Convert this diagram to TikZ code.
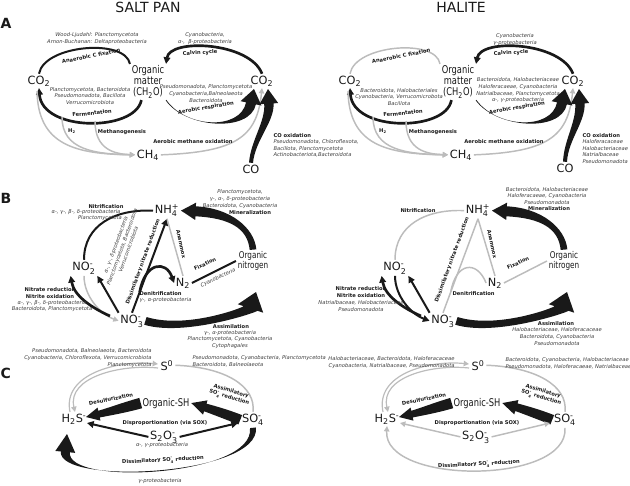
\documentclass[tikz,border=0pt]{standalone}
\usepackage{fontspec}
\usepackage{amsmath}
\setmainfont{DejaVu Sans}
\newfontfamily\narrowfont[FakeStretch=0.78]{DejaVu Sans}
\usetikzlibrary{arrows.meta,calc}

\definecolor{ink}{RGB}{25,25,25}
\definecolor{lgray}{RGB}{188,188,188}
\definecolor{taxtext}{RGB}{60,60,60}

\newcommand{\chsub}[1]{\ensuremath{{}_{\text{#1}}}}
\newcommand{\chsup}[1]{\ensuremath{{}^{\text{#1}}}}
\newcommand{\chsubsup}[2]{\ensuremath{{}_{\text{#1}}^{\text{#2}}}}

% tapered arrow: start, control 1, control 2, tip, start half width, end half width, head half width, head length, colour
\newcommand{\tapflow}[9]{%
  \path ($#4!#8!#3$) coordinate (tb);
  \path ($(tb)!#6!90:#3$) coordinate (bo) ($(tb)!#6!-90:#3$) coordinate (bi)
        ($(tb)!#7!90:#3$) coordinate (ho) ($(tb)!#7!-90:#3$) coordinate (hi)
        ($#1!#5!-90:#2$) coordinate (so) ($#1!#5!90:#2$) coordinate (si);
  \fill[#9] (so) .. controls ($#2+(so)-#1$) and ($#3+(bo)-(tb)$) .. (bo)
     -- (ho) -- #4 -- (hi) -- (bi)
     .. controls ($#3+(bi)-(tb)$) and ($#2+(si)-#1$) .. (si) -- cycle;}

\tikzset{every picture/.style={line width=0.75pt},
  chem/.style={font=\fontsize{8.5}{9}\selectfont, inner sep=1pt, anchor=base, text=ink},
  orgn/.style={font=\narrowfont\fontsize{8}{8.3}\selectfont, align=center, inner sep=1pt, text=ink},
  orgs/.style={font=\narrowfont\fontsize{7}{7.5}\selectfont, align=center, inner sep=1pt, text=ink},
  lbl/.style={font=\bfseries\fontsize{3.9}{4.8}\selectfont, inner sep=0pt, align=center, text=ink},
  tax/.style={font=\itshape\fontsize{3.9}{5}\selectfont, inner sep=0pt, align=center, text=taxtext},
  ttl/.style={font=\fontsize{10.5}{12}\selectfont, text=ink},
  panel/.style={font=\bfseries\fontsize{10.5}{12}\selectfont, anchor=west, inner sep=0pt, text=ink},
  flow/.style={draw=ink, line width=1.5pt},
  flowb/.style={draw=ink, line width=2pt},
  gline/.style={draw=lgray, line width=1.1pt},
  arr/.style={-{Triangle[length=5pt,width=5pt]}},
  garr/.style={-{Triangle[length=4pt,width=4pt]}}}

\begin{document}
\begin{tikzpicture}[x=0.75pt,y=0.75pt,yscale=-1,xscale=1]
\useasboundingbox (0,0) rectangle (630,485);

% Text Node
\node[ttl] (tsalt) at (148,7) {SALT PAN};
\node[ttl] (thal) at (461,7) {HALITE};
\node[panel] (pA) at (0,23) {A};
\node[panel] (pB) at (0,198) {B};
\node[panel] (pC) at (0,373) {C};

%%%%%%%%%% A, salt pan
\node[chem] (co2L) at (39,84) {CO\chsub{2}};
\node[orgn] (omL) at (148,82) {Organic\\matter\\(CH\chsub{2}O)};
\node[chem] (co2rL) at (262,84) {CO\chsub{2}};
\node[chem] (ch4L) at (148,158) {CH\chsub{4}};
\node[chem] (coL) at (251,173) {CO};
\coordinate (arL) at (254,89);
\coordinate (oxL) at (268,89);
\coordinate (cgL) at (37,91);
\coordinate (h2L) at (62,117);
\coordinate (mgL) at (95,121);

% Curve Lines
\draw[flow] (co2L.north) .. controls (44,45) and (125,38) .. (omL.north west);
\draw[flowb, arr] (co2rL.north) .. controls (250,42) and (170,38) .. (omL.north east);
\draw[flowb, arr] (omL.250) .. controls (135,132) and (42,132) .. (co2L.south);
\draw[gline, garr] (cgL) .. controls (38,145) and (75,154) .. (ch4L.west);
\draw[gline, garr] (h2L) .. controls (62,150) and (95,154) .. (ch4L.west);
\draw[gline, garr] (mgL) .. controls (95,150) and (115,154) .. (ch4L.west);
\draw[gline, garr] (ch4L.east) .. controls (235,152) and (257,138) .. (co2rL.south);
\tapflow{(omL.south east)}{(185,128)}{(245,132)}{(arL)}{0.3pt}{3.75pt}{8pt}{11pt}{ink}
\tapflow{(coL.north)}{(253,140)}{(270,122)}{(oxL)}{1.5pt}{3.5pt}{7pt}{11pt}{ink}

% Text Node
\node[tax] (tanL) at (97,38.5) {Wood-Ljudahl: Planctomycetota\\Arnon-Buchanan: Deltaproteobacteria};
\node[lbl, rotate=11] (lanL) at (91,56) {Anaerobic C fixation};
\node[tax] (tcvL) at (205,38.5) {Cyanobacteria,\\α-,\ \ β-proteobacteria};
\node[lbl, rotate=3] (lcvL) at (200,53) {Calvin cycle};
\node[tax] (tfeL) at (90,96) {Planctomycetota, Bacteroidota\\Pseudomonadota, Bacillota\\Verrucomicrobiota};
\node[lbl, rotate=6] (lfeL) at (92,113) {Fermentation};
\node[tax] (tarL) at (206,93.5) {Pseudomonadota, Planctomycetota\\Cyanobacteria,Balneolaeota\\Bacteroidota};
\node[lbl, rotate=10] (larL) at (206,108) {Aerobic respiration};
\node[lbl] (lh2L) at (72,131) {H\chsub{2}};
\node[lbl] (lmgL) at (122,132) {Methanogenesis};
\node[lbl] (lmoL) at (193,142) {Aerobic methane oxidation};
\node[lbl, anchor=west] (lcoL) at (273,136) {CO oxidation};
\node[tax, anchor=north west, align=left] (tcoL) at (273,139) {Pseudomonadota, Chloroflexota,\\Bacillota, Planctomycetota\\Actinobacteriota,Bacteroidota};

%%%%%%%%%% A, halite
\begin{scope}[shift={(311,0)}]
\node[chem] (co2R) at (39,84) {CO\chsub{2}};
\node[orgn] (omR) at (147,82) {Organic\\matter\\(CH\chsub{2}O)};
\node[chem] (co2rR) at (262,84) {CO\chsub{2}};
\node[chem] (ch4R) at (150,158) {CH\chsub{4}};
\node[chem] (coR) at (254,172) {CO};
\coordinate (arR) at (254,89);
\coordinate (oxR) at (268,89);
\coordinate (cgR) at (37,91);
\coordinate (h2R) at (62,117);
\coordinate (mgR) at (95,121);

% Curve Lines
\draw[gline] (co2R.north) .. controls (44,45) and (125,38) .. (omR.north west);
\draw[flowb, arr] (co2rR.north) .. controls (250,42) and (170,38) .. (omR.north east);
\draw[flowb, arr] (omR.250) .. controls (135,132) and (42,132) .. (co2R.south);
\draw[gline, garr] (cgR) .. controls (38,145) and (75,154) .. (ch4R.west);
\draw[gline, garr] (h2R) .. controls (62,150) and (95,154) .. (ch4R.west);
\draw[gline, garr] (mgR) .. controls (95,150) and (115,154) .. (ch4R.west);
\draw[gline, garr] (ch4R.east) .. controls (235,152) and (257,138) .. (co2rR.south);
\tapflow{(omR.south east)}{(185,128)}{(245,132)}{(arR)}{0.3pt}{3.75pt}{8pt}{11pt}{ink}
\tapflow{(coR.north)}{(255,140)}{(270,122)}{(oxR)}{1.5pt}{3.5pt}{7pt}{11pt}{ink}

% Text Node
\node[lbl, rotate=11] (lanR) at (90,56) {Anaerobic C fixation};
\node[tax] (tcvR) at (204,39.5) {Cyanobacteria\\γ-proteobacteria};
\node[lbl, rotate=3] (lcvR) at (200,53) {Calvin cycle};
\node[tax] (tfeR) at (88,97) {Bacteroidota, Halobacteriales\\Cyanobacteria, Verrucomicrobota\\Bacillota};
\node[lbl, rotate=6] (lfeR) at (92,113) {Fermentation};
\node[tax] (tarR) at (207,90.5) {Bacteroidota, Halobacteriaceae\\Haloferacaeae, Cyanobacteria\\Natrialbaceae, Planctomycetota\\α-, γ-proteobacteria};
\node[lbl, rotate=10] (larR) at (206,108) {Aerobic respiration};
\node[lbl] (lh2R) at (72,131) {H\chsub{2}};
\node[lbl] (lmgR) at (122,132) {Methanogenesis};
\node[lbl] (lmoR) at (193,142) {Aerobic methane oxidation};
\node[lbl, anchor=west] (lcoR) at (271,136) {CO oxidation};
\node[tax, anchor=north west, align=left] (tcoR) at (271,139) {Haloferacaceae\\Halobacteriaceae\\Natrialbaceae\\Pseudomonadota};
\end{scope}

%%%%%%%%%% B, salt pan
\node[chem] (nh4L) at (167,213) {NH\chsubsup{4}{+}};
\node[chem] (no2L) at (84,270) {NO\chsubsup{2}{-}};
\node[chem] (no3L) at (132,323) {NO\chsubsup{3}{-}};
\node[chem] (n2L) at (183,286) {N\chsub{2}};
\node[orgs] (orgnL) at (253,261) {Organic\\nitrogen};
\coordinate (nrL) at (110,316);
\coordinate (dnL) at ($(no3L.north)!0.22!(nh4L.south)$);
\coordinate (asL) at (256,292);

% Curve Lines
\draw[flow] (no2L.north) .. controls (84,225) and (115,209) .. (nh4L.west);
\tapflow{(orgnL.north)}{(251,228)}{(230,213)}{(nh4L.east)}{2.5pt}{3.75pt}{6.5pt}{11pt}{ink}
\draw[gline, garr] (no2L.south) .. controls (84,296) and (100,314) .. (no3L.west);
\draw[flowb, arr] (nrL) .. controls (92,308) and (74,296) .. (no2L.south west);
\draw[flow, arr] (no3L.north west) -- (no2L.south east);
\draw[flow, arr] (no3L.north) -- (nh4L.south);
\draw[gline] (nh4L.south) -- (n2L.north);
\draw[flowb, arr] (dnL) .. controls (145,262) and (166,260) .. (n2L.west);
\draw[flow] (n2L.east) -- (orgnL.west);
\tapflow{(no3L.east)}{(185,333)}{(250,310)}{(asL)}{3pt}{5.5pt}{10pt}{13pt}{ink}

% Text Node
\node[lbl] (lniL) at (106,207) {Nitrification};
\node[tax] (tniL) at (86,212) {α-, γ-, β-, δ-proteobacteria};
\node[tax] (tni2L) at (100,218) {Planctomycetota};
\node[tax] (tmiL) at (240,199) {Planctomycetota,\\γ-, α-, δ-proteobacteria\\Bacteroidota, Cyanobacteria};
\node[lbl] (lmiL) at (250,213) {Mineralization};
\node[lbl, rotate=70] (ldnraL) at (143,262) {Dissimilatory nitrate reduction};
\node[tax, rotate=70] (tdnraL) at (122,247) {α-, γ-, δ-proteobacteria\\Planctomycetota, Bacteroidota\\Verrucomicrobiota};
\node[lbl, rotate=-78] (lamL) at (181,244) {Anammox};
\node[lbl, anchor=west] (ldeL) at (139,294) {Denitrification};
\node[tax, anchor=west] (tdeL) at (139,300) {γ-, α-proteobacteria};
\node[lbl, rotate=25] (lfiL) at (205,264) {Fixation};
\node[tax, rotate=25] (tfiL) at (218,278) {Cyanobacteria};
\node[lbl] (lnrL) at (50,293) {Nitrate reduction\\Nitrite oxidation};
\node[tax] (tnrL) at (52,306) {α-, γ-, β-, δ-proteobacteria\\Bacteroidota, Planctomycetota};
\node[lbl] (lasL) at (231,327) {Assimilation};
\node[tax] (tasL) at (230,339.5) {γ-, α-proteobacteria\\Planctomycetota, Cyanobacteria\\Cytophagales};

%%%%%%%%%% B, halite
\begin{scope}[shift={(311,0)}]
\node[chem] (nh4R) at (167,213) {NH\chsubsup{4}{+}};
\node[chem] (no2R) at (84,270) {NO\chsubsup{2}{-}};
\node[chem] (no3R) at (132,323) {NO\chsubsup{3}{-}};
\node[chem] (n2R) at (184,286) {N\chsub{2}};
\node[orgs] (orgnR) at (253,261) {Organic\\nitrogen};
\coordinate (nrR) at (110,316);
\coordinate (dnR) at ($(no3R.north)!0.22!(nh4R.south)$);
\coordinate (asR) at (256,292);

% Curve Lines
\draw[gline] (no2R.north) .. controls (84,225) and (115,209) .. (nh4R.west);
\tapflow{(orgnR.north)}{(251,228)}{(230,213)}{(nh4R.east)}{2.5pt}{3.75pt}{6.5pt}{11pt}{ink}
\draw[flow, arr] (no2R.south) .. controls (84,296) and (100,314) .. (no3R.west);
\draw[flowb, arr] (nrR) .. controls (92,308) and (74,296) .. (no2R.south west);
\draw[flow, arr] (no3R.north west) -- (no2R.south east);
\draw[gline] (no3R.north) -- (nh4R.south);
\draw[gline] (nh4R.south) -- (n2R.north);
\draw[gline] (dnR) .. controls (145,262) and (166,260) .. (n2R.west);
\draw[gline] (n2R.east) -- (orgnR.west);
\tapflow{(no3R.east)}{(185,333)}{(250,310)}{(asR)}{3pt}{5.5pt}{10pt}{13pt}{ink}

% Text Node
\node[lbl] (lniR) at (107,211) {Nitrification};
\node[tax] (tmiR) at (236,196) {Bacteroidota, Halobacteriaceae\\Haloferacaeae, Cyanobacteria\\Pseudomonadota};
\node[lbl] (lmiR) at (238,209) {Mineralization};
\node[lbl, rotate=70] (ldnraR) at (141,260) {Dissimilatory nitrate reduction};
\node[lbl, rotate=-78] (lamR) at (181,244) {Anammox};
\node[lbl, anchor=west] (ldeR) at (141,294) {Denitrification};
\node[lbl, rotate=25] (lfiR) at (207,263) {Fixation};
\node[lbl] (lnrR) at (50,292) {Nitrate reduction\\Nitrite oxidation};
\node[tax] (tnrR) at (50,306) {Natrialbaceae, Halobacteriaceae\\Pseudomonadota};
\node[lbl] (lasR) at (245,324) {Assimilation};
\node[tax] (tasR) at (246,336.5) {Halobacteriaceae, Haloferacaceae\\Bacteroidota, Cyanobacteria\\Pseudomonadota};
\end{scope}

%%%%%%%%%% C, salt pan
\node[chem] (s0L) at (167,370) {S\chsup{0}};
\node[chem] (h2sL) at (74,422) {H\chsub{2}S\chsup{-}};
\node[orgn, anchor=base] (oshL) at (166,406) {Organic-SH};
\node[chem] (so4L) at (253,422) {SO\chsubsup{4}{-}};
\node[chem] (s2o3L) at (164,439) {S\chsub{2}O\chsubsup{3}{-}};
\coordinate (sa1L) at (70,412);
\coordinate (sa2L) at (75,412);
\coordinate (sb1L) at (158,364);
\coordinate (sb2L) at (158,368);
\coordinate (dsL) at (86,417);
\coordinate (dpL) at (87,423);
\coordinate (dqL) at (238,423);
\coordinate (dssL) at (67,434);

% Curve Lines
\draw[gline, line width=0.9pt, garr] (sa1L) .. controls (62,374) and (118,360) .. (sb1L);
\draw[gline, line width=0.9pt, garr] (sb2L) .. controls (121,364) and (67,377) .. (sa2L);
\draw[gline] (s0L.east) .. controls (225,367) and (256,386) .. (so4L.north);
\tapflow{(oshL.west)}{(123,408)}{(104,413)}{(dsL)}{4pt}{2.6pt}{5pt}{10pt}{ink}
\tapflow{(so4L.west)}{(223,413)}{(207,408)}{(oshL.east)}{3.75pt}{3pt}{5.6pt}{11pt}{ink}
\draw[flow, arr] (s2o3L.west) -- (dpL);
\draw[flow, arr] (s2o3L.east) -- (dqL);
\tapflow{(so4L.south)}{(258,476)}{(62,486)}{(dssL)}{2.25pt}{3.4pt}{7.5pt}{13.5pt}{ink}

% Text Node
\node[tax, anchor=east, align=right] (ts0aL) at (152,358) {Pseudomonadota, Balneolaeota, Bacteroidota\\Cyanobacteria, Chloroflexota, Verrucomicrobiota\\Planctomycetota};
\node[tax, anchor=west, align=left] (ts0bL) at (192,361.5) {Pseudomonadota, Cyanobacteria, Planctomycetota\\Bacteroidota, Balneolaeota};
\node[lbl, rotate=12] (ldsL) at (111,399) {Desulfurization};
\node[lbl, rotate=-17] (lasuL) at (230,395) {Assimilatory\\SO\chsubsup{4}{-} reduction};
\node[lbl] (ldpL) at (165,423) {Disproportionation (via SOX)};
\node[tax] (tdpL) at (162,445) {α-, γ-proteobacteria};
\node[lbl, rotate=3] (ldssL) at (163,461) {Dissimilatory SO\chsubsup{4}{-} reduction};
\node[tax] (tdssL) at (160,481) {γ-proteobacteria};

%%%%%%%%%% C, halite
\begin{scope}[shift={(311,0)}]
\node[chem] (s0R) at (167,370) {S\chsup{0}};
\node[chem] (h2sR) at (76,422) {H\chsub{2}S\chsup{-}};
\node[orgn, anchor=base] (oshR) at (166,406) {Organic-SH};
\node[chem] (so4R) at (254,422) {SO\chsubsup{4}{-}};
\node[chem] (s2o3R) at (165,439) {S\chsub{2}O\chsubsup{3}{-}};
\coordinate (sa1R) at (72,412);
\coordinate (sa2R) at (77,412);
\coordinate (sb1R) at (158,364);
\coordinate (sb2R) at (158,368);
\coordinate (dsR) at (88,417);
\coordinate (dpR) at (89,423);
\coordinate (dqR) at (239,423);

% Curve Lines
\draw[gline, line width=0.9pt, garr] (sa1R) .. controls (64,374) and (118,360) .. (sb1R);
\draw[gline, line width=0.9pt, garr] (sb2R) .. controls (121,364) and (69,377) .. (sa2R);
\draw[gline] (s0R.east) .. controls (225,367) and (257,386) .. (so4R.north);
\tapflow{(oshR.west)}{(124,408)}{(106,413)}{(dsR)}{4pt}{2.6pt}{5pt}{10pt}{ink}
\tapflow{(so4R.west)}{(224,413)}{(208,408)}{(oshR.east)}{3.75pt}{3pt}{5.6pt}{11pt}{ink}
\draw[gline, garr] (s2o3R.west) -- (dpR);
\draw[gline, garr] (s2o3R.east) -- (dqR);
\draw[gline, garr] (so4R.south) .. controls (258,485) and (72,485) .. (h2sR.south);

% Text Node
\node[tax, anchor=east, align=right] (ts0aR) at (144,362.5) {Halobacteriaceae, Bacteroidota, Haloferacaceae\\Cyanobacteria, Natrialbaceae, Pseudomonadota};
\node[tax, anchor=west, align=left] (ts0bR) at (194,363) {Bacteroidota, Cyanobacteria, Halobacteriaceae\\Pseudomonadota, Haloferacaeae, Natrialbaceae};
\node[lbl, rotate=12] (ldsR) at (113,399) {Desulfurization};
\node[lbl, rotate=-17] (lasuR) at (231,395) {Assimilatory\\SO\chsubsup{4}{-} reduction};
\node[lbl] (ldpR) at (166,423) {Disproportionation (via SOX)};
\node[lbl, rotate=3] (ldssR) at (168,465) {Dissimilatory SO\chsubsup{4}{-} reduction};
\end{scope}

\end{tikzpicture}
\end{document}
